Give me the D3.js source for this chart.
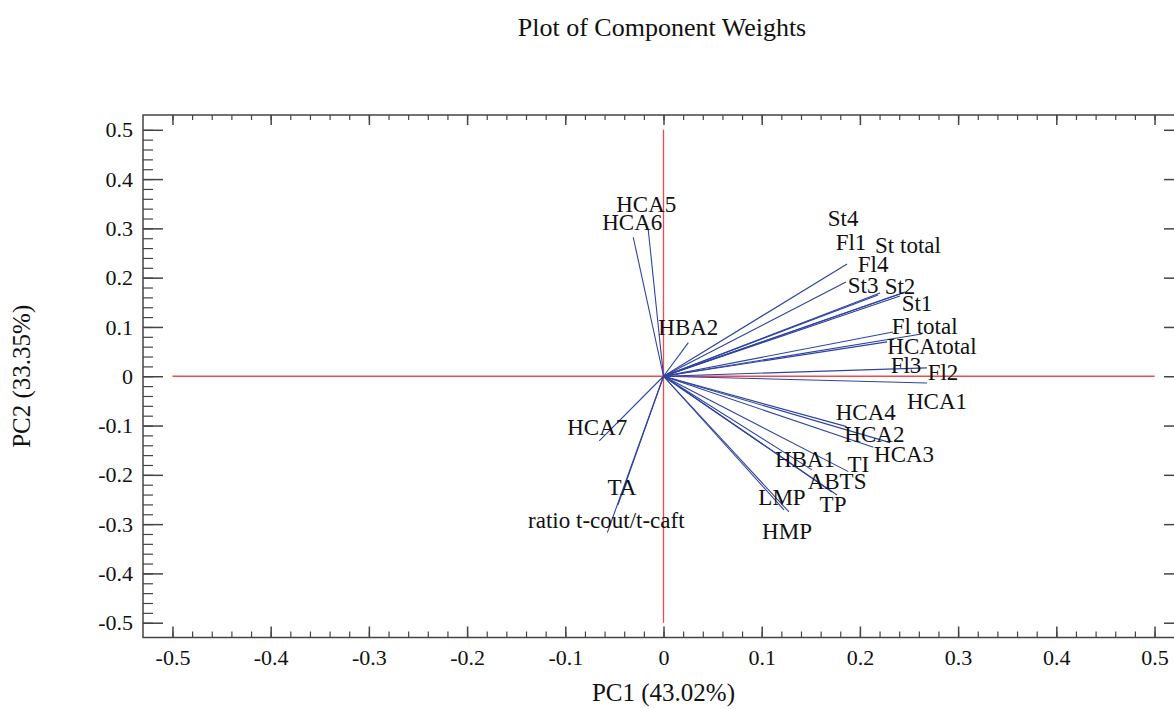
<!DOCTYPE html>
<html>
<head>
<meta charset="utf-8">
<script src="https://cdn.jsdelivr.net/npm/d3@7"></script>
<style>
  body { margin: 0; background: #fff; }
  svg text { font-family: "Liberation Serif", "Times New Roman", serif; fill: #111; }
</style>
</head>
<body>
<div id="weights-chart"></div>
<script>
// component weights
const variables = [
    "HCA5", "HCA6", "HBA2",
    "St4", "Fl1", "Fl4", "St3", "St2", "St total", "St1",
    "Fl total", "HCAtotal", "Fl3", "Fl2", "HCA1",
    "HCA4", "HCA2", "HCA3",
    "HBA1", "TI", "ABTS", "TP", "LMP", "HMP",
    "HCA7", "TA", "ratio t-cout/t-caft"
];
const pc1Weights = [
    -0.0155, -0.0308, 0.0253,
    0.1869, 0.1858, 0.2205, 0.2185, 0.2439, 0.2459, 0.2408,
    0.2629, 0.2337, 0.2276, 0.2683, 0.2683,
    0.1866, 0.2137, 0.2307,
    0.1512, 0.1882, 0.1716, 0.1767, 0.1227, 0.1278,
    -0.0654, -0.0463, -0.0572
];
const pc2Weights = [
    0.2968, 0.2820, 0.0682,
    0.2278, 0.1913, 0.1690, 0.1649, 0.1690, 0.1710, 0.1629,
    0.0858, 0.0899, 0.0697, 0.0169, -0.0136,
    -0.1022, -0.1440, -0.1347,
    -0.1900, -0.1935, -0.2347, -0.2408, -0.2712, -0.2753,
    -0.1312, -0.2610, -0.3172
];
const majorTicks = d3.range(-5, 6).map(d => d / 10);
const minorTicks = d3.range(-25, 26).map(d => d / 50);

const title = "Plot of Component Weights";
const xTitle = "PC1 (43.02%)";
const yTitle = "PC2 (33.35%)";

// where each label sits relative to its vector tip (px)
const labelNudge = [
    [-2, -26], [-1, -15], [0, -16],
    [-4, -46], [5, -40], [-7, -29], [-15, -10], [-3, -7], [3, -47], [17, 7],
    [3, -8], [39, 14], [19, 23], [16, 4], [10, 18],
    [19, -15], [1, -13], [14, 11],
    [-7, -11], [10, -8], [5, -11], [-4, 9], [-2, -13], [-2, 19],
    [-2, -14], [4, -18], [-1, -13]
];

const data = variables.map((name, i) => ({
    name: name,
    pc1: pc1Weights[i],
    pc2: pc2Weights[i],
    nudge: labelNudge[i]
}));

const drawWeightsPlot = (data) => {

    const width = 1174;
    const height = 709;

    const frame = { left: 143, right: 1184, top: 115, bottom: 637.5 };

    const svg = d3.select("#weights-chart")
        .append("svg")
        .attr("width", width)
        .attr("height", height)
        .attr("viewBox", `0, 0, ${width}, ${height}`);

    const xScale = d3.scaleLinear()
        .domain([-0.53, 0.53])
        .range([frame.left, frame.right]);

    const yScale = d3.scaleLinear()
        .domain([-0.53, 0.53])
        .range([frame.bottom, frame.top]);

    const fmt = d => d === 0 ? "0" : d.toFixed(1);
    const axisGrey = "#444";

    // minor ticks first, majors on top
    const axes = [
        { ax: d3.axisBottom(xScale), t: `translate(0, ${frame.bottom})`, big: -11, small: -6, labels: true },
        { ax: d3.axisTop(xScale), t: `translate(0, ${frame.top})`, big: -10, small: -5, labels: false },
        { ax: d3.axisLeft(yScale), t: `translate(${frame.left}, 0)`, big: -20, small: -10, labels: true },
        { ax: d3.axisRight(yScale), t: `translate(${frame.right}, 0)`, big: -20, small: -10, labels: false }
    ];

    axes.forEach(a => {
        const minor = svg.append("g")
            .attr("transform", a.t)
            .call(a.ax.tickValues(minorTicks).tickSize(a.small).tickSizeOuter(0).tickFormat(""));
        minor.select(".domain").remove();
        minor.selectAll("line").attr("stroke", axisGrey).attr("stroke-width", 1.2);

        const major = svg.append("g")
            .attr("class", a.labels ? "labelled" : "")
            .attr("transform", a.t)
            .call(a.ax.tickValues(majorTicks).tickSize(a.big).tickSizeOuter(0)
                .tickPadding(a.big === -20 ? 10 : 12)
                .tickFormat(a.labels ? fmt : ""));
        major.select(".domain").remove();
        major.selectAll("line").attr("stroke", axisGrey).attr("stroke-width", 1.5);
        major.selectAll("text")
            .style("font-family", "'Liberation Serif', 'Times New Roman', serif")
            .style("font-size", "22px")
            .attr("fill", "#111");
    });

    svg.append("rect")
        .attr("x", frame.left)
        .attr("y", frame.top)
        .attr("width", frame.right - frame.left)
        .attr("height", frame.bottom - frame.top)
        .attr("fill", "none")
        .attr("stroke", axisGrey)
        .attr("stroke-width", 1.5);

    // red zero lines
    const red = "#ee4b4b";
    svg.append("line")
        .attr("x1", xScale(-0.5)).attr("x2", xScale(0.5))
        .attr("y1", yScale(0)).attr("y2", yScale(0))
        .attr("stroke", red).attr("stroke-width", 1.3);
    svg.append("line")
        .attr("x1", xScale(0)).attr("x2", xScale(0))
        .attr("y1", yScale(0.5)).attr("y2", yScale(-0.5))
        .attr("stroke", red).attr("stroke-width", 1.3);

    const navy = "#2f43a0";

    svg.append("g")
        .selectAll("line")
        .data(data)
        .join("line")
            .attr("x1", xScale(0))
            .attr("y1", yScale(0))
            .attr("x2", d => xScale(d.pc1))
            .attr("y2", d => yScale(d.pc2))
            .attr("stroke", navy)
            .attr("stroke-width", 1.1);

    svg.append("g")
        .selectAll("text")
        .data(data)
        .join("text")
            .text(d => d.name)
            .attr("x", d => xScale(d.pc1) + d.nudge[0])
            .attr("y", d => yScale(d.pc2) + d.nudge[1] + 8)
            .attr("text-anchor", "middle")
            .style("font-size", "23px");

    svg.append("text")
        .text(title)
        .attr("x", 662)
        .attr("y", 36)
        .attr("text-anchor", "middle")
        .style("font-size", "26px");

    svg.append("text")
        .text(xTitle)
        .attr("x", xScale(0))
        .attr("y", 701)
        .attr("text-anchor", "middle")
        .style("font-size", "25px");

    svg.append("text")
        .text(yTitle)
        .attr("transform", `translate(30, ${yScale(0)}) rotate(-90)`)
        .attr("text-anchor", "middle")
        .style("font-size", "25px");
};

drawWeightsPlot(data);
</script>
</body>
</html>
